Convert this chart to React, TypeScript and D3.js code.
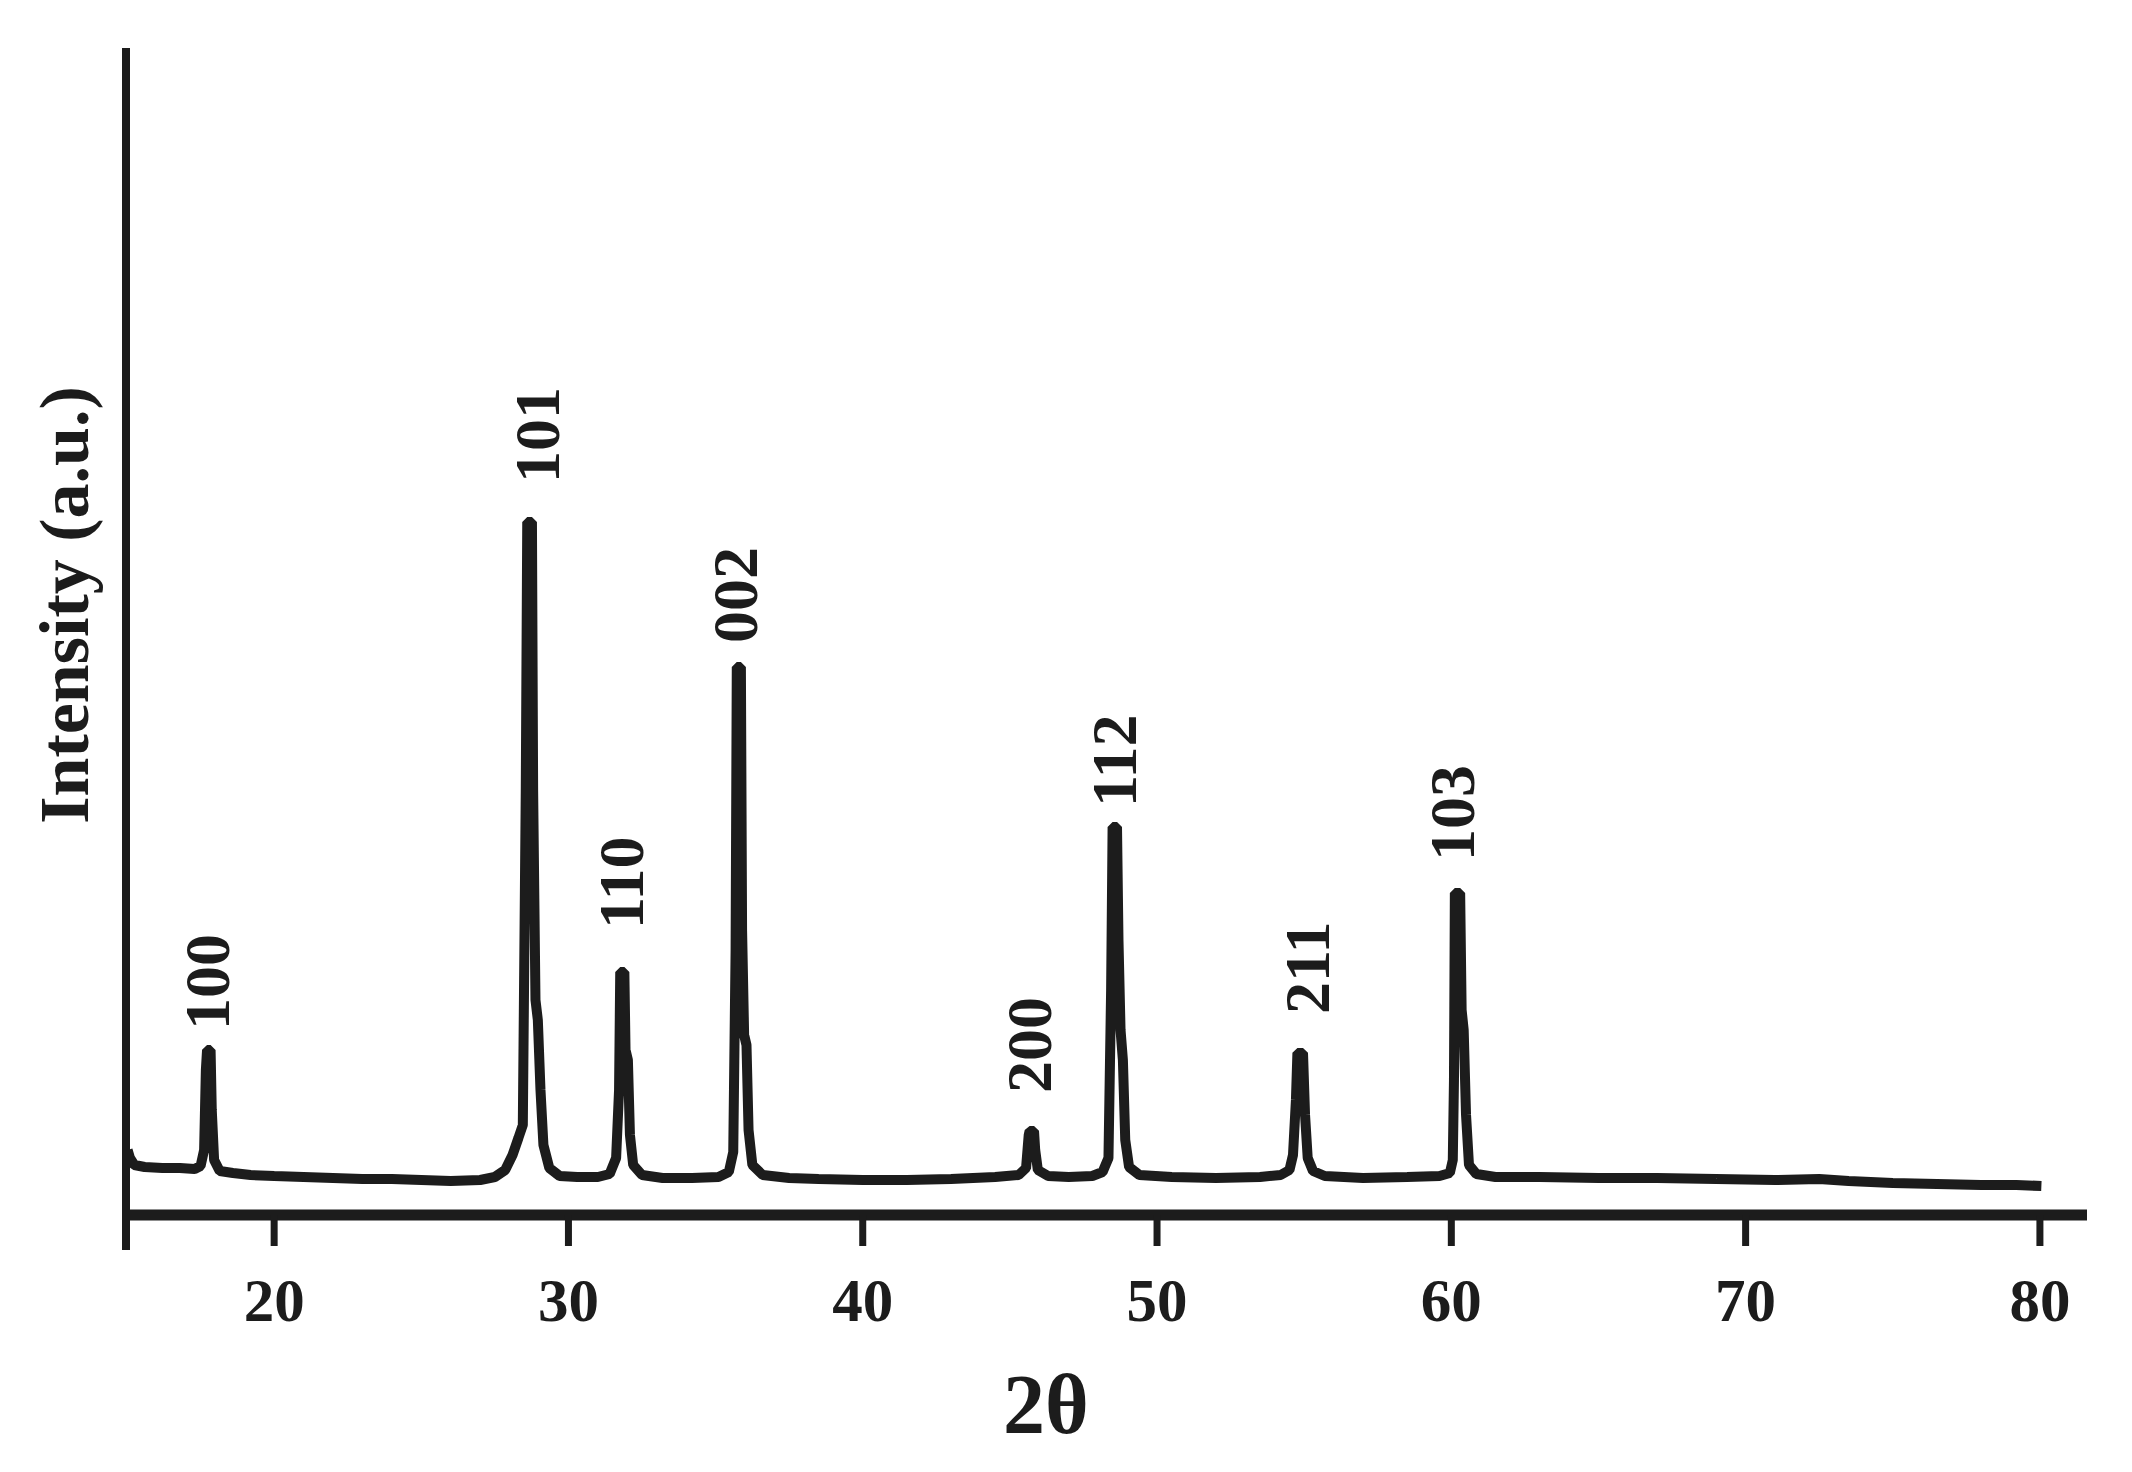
import React from "react";
import * as d3 from "d3";

const twoTheta: number[] = [
  // start + 100
  15.02, 15.1, 15.25, 15.6, 16.2, 16.8, 17.3, 17.5, 17.62, 17.68, 17.72, 17.84, 17.88, 17.96, 18.15, 18.6, 19.2,
  // background + 101
  20.0, 21.0, 22.0, 23.0, 24.0, 25.0, 26.0, 27.0, 27.5, 27.85, 28.1, 28.3, 28.45, 28.55, 28.6, 28.76, 28.8,
  28.88, 28.96, 29.05, 29.15, 29.35, 29.7, 30.3, 31.0,
  // 110
  31.4, 31.62, 31.72, 31.76, 31.9, 31.94, 32.02, 32.09, 32.2, 32.5, 33.2, 34.2,
  // 002
  35.1, 35.45, 35.6, 35.68, 35.72, 35.86, 35.9, 35.97, 36.05, 36.12, 36.25, 36.6, 37.5, 38.5, 40.0, 41.5, 43.0, 44.5,
  // 200
  45.3, 45.55, 45.64, 45.67, 45.82, 45.86, 45.95, 46.3, 47.0, 47.8,
  // 112
  48.15, 48.35, 48.44, 48.49, 48.64, 48.69, 48.76, 48.84, 48.92, 49.05, 49.4, 50.5, 52.0, 53.5,
  // 211
  54.2, 54.5, 54.62, 54.72, 54.77, 54.96, 55.03, 55.12, 55.3, 55.7, 57.0, 58.5,
  // 103 + tail
  59.6, 59.95, 60.05, 60.09, 60.12, 60.3, 60.35, 60.42, 60.5, 60.6, 60.85, 61.5, 63.0, 65.0, 67.0, 69.0, 71.0,
  72.5, 73.5, 75.0, 76.5, 78.0, 79.2, 80.05,
];
const intensity: number[] = [
  // start + 100
  60, 52, 45, 43, 42, 42, 41, 44, 60, 140, 160, 160, 100, 50, 39, 37, 35,
  // background + 101
  34, 33, 32, 31, 31, 30, 29, 30, 33, 40, 55, 72, 85, 420, 688, 688, 420,
  210, 190, 120, 65, 42, 34, 33, 33,
  // 110
  36, 52, 120, 238, 238, 160, 150, 75, 45, 35, 32, 32,
  // 002
  33, 38, 58, 260, 543, 543, 280, 175, 165, 80, 45, 35, 32, 31, 30, 30, 31, 33,
  // 200
  35, 42, 75, 79, 79, 60, 40, 34, 33, 34,
  // 112
  38, 52, 220, 383, 383, 270, 180, 150, 70, 43, 35, 33, 32, 33,
  // 211
  35, 40, 55, 110, 157, 157, 95, 52, 39, 34, 32, 33,
  // 103 + tail
  34, 37, 50, 130, 317, 317, 200, 180, 95, 45, 36, 33, 33, 32, 32, 31, 30,
  31, 29, 27, 26, 25, 25, 24,
];

const peakHkl: string[] = ["100", "101", "110", "002", "200", "112", "211", "103"];
const peakAngle: number[] = [17.78, 28.68, 31.83, 35.79, 45.74, 48.56, 54.86, 60.21];

const xTickValues: number[] = [20, 30, 40, 50, 60, 70, 80];
const xTitle = "2θ";
const yTitle = "Intensity (a.u.)";

// ---- Layout (not data) ----
const W = 2132;
const H = 1472;
const INK = "#1c1c1c";
const FONT = "'Liberation Serif', 'Times New Roman', Times, serif";
// per-label gap above peak top (px) and horizontal nudge (px)
const labelGap = [15, 34, 38, 19, 33, 15, 34, 27];
const labelDx = [-1, 8, 0, -3, -2, 0, 8, -5];

export default function App() {
  const x = d3.scaleLinear().domain([15, 81.6]).range([127, 2087]);
  const y = d3.scaleLinear().domain([0, 1162]).range([1210, 48]);

  const pts: [number, number][] = twoTheta.map((t, i) => [t, intensity[i]]);
  const line = d3
    .line<[number, number]>()
    .x((d) => x(d[0]))
    .y((d) => y(d[1]))
    .curve(d3.curveLinear);

  const axisY = 1215;
  const yAxisX = x(15) - 1;
  const traceW = 10;
  const labelSize = 64;
  const capH = labelSize * 0.66;

  const peakTop = (a: number) => {
    let m = 0;
    pts.forEach(([t, v]) => {
      if (Math.abs(t - a) < 0.3 && v > m) m = v;
    });
    return m;
  };

  return (
    <svg
      width={W}
      height={H}
      viewBox={`0 0 ${W} ${H}`}
      style={{ position: "absolute", left: 0, top: 0, display: "block", background: "#fff" }}
    >
      <rect x={0} y={0} width={W} height={H} fill="#fff" />
      {/* trace */}
      <path
        d={line(pts) || ""}
        fill="none"
        stroke={INK}
        strokeWidth={traceW}
        strokeLinejoin="bevel"
        strokeLinecap="butt"
      />
      {/* y axis */}
      <line x1={yAxisX} x2={yAxisX} y1={48} y2={1250} stroke={INK} strokeWidth={8} />
      {/* x axis */}
      <line x1={yAxisX - 4} x2={x(81.6)} y1={axisY} y2={axisY} stroke={INK} strokeWidth={11} />
      {xTickValues.map((t) => (
        <g key={t}>
          <line x1={x(t)} x2={x(t)} y1={axisY} y2={1246} stroke={INK} strokeWidth={7} />
          <text
            x={x(t)}
            y={1321}
            textAnchor="middle"
            fontFamily={FONT}
            fontWeight="bold"
            fontSize={61}
            fill={INK}
          >
            {t}
          </text>
        </g>
      ))}
      {/* peak labels */}
      {peakHkl.map((h, i) => {
        const top = y(peakTop(peakAngle[i])) - traceW / 2;
        const px = x(peakAngle[i]) + labelDx[i] + capH / 2;
        const py = top - labelGap[i];
        return (
          <text
            key={h}
            transform={`translate(${px},${py}) rotate(-90)`}
            textAnchor="start"
            fontFamily={FONT}
            fontWeight="bold"
            fontSize={labelSize}
            fill={INK}
          >
            {h}
          </text>
        );
      })}
      {/* axis titles */}
      <text
        x={1046}
        y={1433}
        textAnchor="middle"
        fontFamily={FONT}
        fontWeight="bold"
        fontSize={84}
        fill={INK}
      >
        {xTitle}
      </text>
      <text
        transform={`translate(88,605) rotate(-90)`}
        textAnchor="middle"
        fontFamily={FONT}
        fontWeight="bold"
        fontSize={70}
        fill={INK}
      >
        {yTitle}
      </text>
    </svg>
  );
}
